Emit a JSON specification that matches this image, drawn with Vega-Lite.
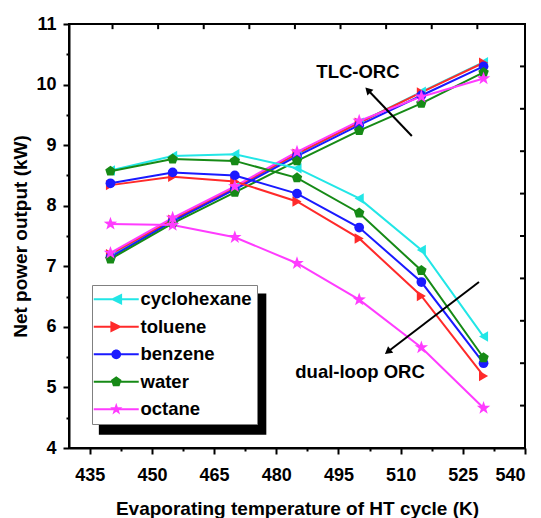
{
  "$schema": "https://vega.github.io/schema/vega-lite/v6.json",
  "width": 456,
  "height": 424,
  "autosize": "none",
  "padding": {"left": 69, "top": 24, "right": 16, "bottom": 70},
  "background": "white",
  "config": {
    "font": "Liberation Sans",
    "view": {"stroke": "black", "strokeWidth": 2},
    "axis": {"labelFont": "Liberation Sans", "titleFont": "Liberation Sans", "labelFontWeight": "bold", "titleFontWeight": "bold", "labelColor": "black", "titleColor": "black", "domainColor": "black", "tickColor": "black", "domainWidth": 2, "tickWidth": 2, "grid": false}
  },
  "datasets": {
    "series": [
      {"T": 440, "P": 7.18, "fluid": "cyclohexane", "cycle": "TLC-ORC"},
      {"T": 455, "P": 7.75, "fluid": "cyclohexane", "cycle": "TLC-ORC"},
      {"T": 470, "P": 8.30, "fluid": "cyclohexane", "cycle": "TLC-ORC"},
      {"T": 485, "P": 8.85, "fluid": "cyclohexane", "cycle": "TLC-ORC"},
      {"T": 500, "P": 9.37, "fluid": "cyclohexane", "cycle": "TLC-ORC"},
      {"T": 515, "P": 9.88, "fluid": "cyclohexane", "cycle": "TLC-ORC"},
      {"T": 530, "P": 10.37, "fluid": "cyclohexane", "cycle": "TLC-ORC"},
      {"T": 440, "P": 7.20, "fluid": "toluene", "cycle": "TLC-ORC"},
      {"T": 455, "P": 7.77, "fluid": "toluene", "cycle": "TLC-ORC"},
      {"T": 470, "P": 8.30, "fluid": "toluene", "cycle": "TLC-ORC"},
      {"T": 485, "P": 8.86, "fluid": "toluene", "cycle": "TLC-ORC"},
      {"T": 500, "P": 9.37, "fluid": "toluene", "cycle": "TLC-ORC"},
      {"T": 515, "P": 9.87, "fluid": "toluene", "cycle": "TLC-ORC"},
      {"T": 530, "P": 10.36, "fluid": "toluene", "cycle": "TLC-ORC"},
      {"T": 440, "P": 7.15, "fluid": "benzene", "cycle": "TLC-ORC"},
      {"T": 455, "P": 7.74, "fluid": "benzene", "cycle": "TLC-ORC"},
      {"T": 470, "P": 8.27, "fluid": "benzene", "cycle": "TLC-ORC"},
      {"T": 485, "P": 8.82, "fluid": "benzene", "cycle": "TLC-ORC"},
      {"T": 500, "P": 9.33, "fluid": "benzene", "cycle": "TLC-ORC"},
      {"T": 515, "P": 9.82, "fluid": "benzene", "cycle": "TLC-ORC"},
      {"T": 530, "P": 10.30, "fluid": "benzene", "cycle": "TLC-ORC"},
      {"T": 440, "P": 7.12, "fluid": "water", "cycle": "TLC-ORC"},
      {"T": 455, "P": 7.71, "fluid": "water", "cycle": "TLC-ORC"},
      {"T": 470, "P": 8.22, "fluid": "water", "cycle": "TLC-ORC"},
      {"T": 485, "P": 8.74, "fluid": "water", "cycle": "TLC-ORC"},
      {"T": 500, "P": 9.24, "fluid": "water", "cycle": "TLC-ORC"},
      {"T": 515, "P": 9.69, "fluid": "water", "cycle": "TLC-ORC"},
      {"T": 530, "P": 10.20, "fluid": "water", "cycle": "TLC-ORC"},
      {"T": 440, "P": 7.22, "fluid": "octane", "cycle": "TLC-ORC"},
      {"T": 455, "P": 7.80, "fluid": "octane", "cycle": "TLC-ORC"},
      {"T": 470, "P": 8.32, "fluid": "octane", "cycle": "TLC-ORC"},
      {"T": 485, "P": 8.89, "fluid": "octane", "cycle": "TLC-ORC"},
      {"T": 500, "P": 9.40, "fluid": "octane", "cycle": "TLC-ORC"},
      {"T": 515, "P": 9.80, "fluid": "octane", "cycle": "TLC-ORC"},
      {"T": 530, "P": 10.10, "fluid": "octane", "cycle": "TLC-ORC"},
      {"T": 440, "P": 8.58, "fluid": "cyclohexane", "cycle": "dual-loop ORC"},
      {"T": 455, "P": 8.82, "fluid": "cyclohexane", "cycle": "dual-loop ORC"},
      {"T": 470, "P": 8.85, "fluid": "cyclohexane", "cycle": "dual-loop ORC"},
      {"T": 485, "P": 8.62, "fluid": "cyclohexane", "cycle": "dual-loop ORC"},
      {"T": 500, "P": 8.12, "fluid": "cyclohexane", "cycle": "dual-loop ORC"},
      {"T": 515, "P": 7.27, "fluid": "cyclohexane", "cycle": "dual-loop ORC"},
      {"T": 530, "P": 5.84, "fluid": "cyclohexane", "cycle": "dual-loop ORC"},
      {"T": 440, "P": 8.34, "fluid": "toluene", "cycle": "dual-loop ORC"},
      {"T": 455, "P": 8.48, "fluid": "toluene", "cycle": "dual-loop ORC"},
      {"T": 470, "P": 8.40, "fluid": "toluene", "cycle": "dual-loop ORC"},
      {"T": 485, "P": 8.07, "fluid": "toluene", "cycle": "dual-loop ORC"},
      {"T": 500, "P": 7.46, "fluid": "toluene", "cycle": "dual-loop ORC"},
      {"T": 515, "P": 6.51, "fluid": "toluene", "cycle": "dual-loop ORC"},
      {"T": 530, "P": 5.19, "fluid": "toluene", "cycle": "dual-loop ORC"},
      {"T": 440, "P": 8.37, "fluid": "benzene", "cycle": "dual-loop ORC"},
      {"T": 455, "P": 8.55, "fluid": "benzene", "cycle": "dual-loop ORC"},
      {"T": 470, "P": 8.50, "fluid": "benzene", "cycle": "dual-loop ORC"},
      {"T": 485, "P": 8.20, "fluid": "benzene", "cycle": "dual-loop ORC"},
      {"T": 500, "P": 7.64, "fluid": "benzene", "cycle": "dual-loop ORC"},
      {"T": 515, "P": 6.74, "fluid": "benzene", "cycle": "dual-loop ORC"},
      {"T": 530, "P": 5.40, "fluid": "benzene", "cycle": "dual-loop ORC"},
      {"T": 440, "P": 8.57, "fluid": "water", "cycle": "dual-loop ORC"},
      {"T": 455, "P": 8.77, "fluid": "water", "cycle": "dual-loop ORC"},
      {"T": 470, "P": 8.74, "fluid": "water", "cycle": "dual-loop ORC"},
      {"T": 485, "P": 8.46, "fluid": "water", "cycle": "dual-loop ORC"},
      {"T": 500, "P": 7.88, "fluid": "water", "cycle": "dual-loop ORC"},
      {"T": 515, "P": 6.93, "fluid": "water", "cycle": "dual-loop ORC"},
      {"T": 530, "P": 5.49, "fluid": "water", "cycle": "dual-loop ORC"},
      {"T": 440, "P": 7.70, "fluid": "octane", "cycle": "dual-loop ORC"},
      {"T": 455, "P": 7.68, "fluid": "octane", "cycle": "dual-loop ORC"},
      {"T": 470, "P": 7.48, "fluid": "octane", "cycle": "dual-loop ORC"},
      {"T": 485, "P": 7.05, "fluid": "octane", "cycle": "dual-loop ORC"},
      {"T": 500, "P": 6.45, "fluid": "octane", "cycle": "dual-loop ORC"},
      {"T": 515, "P": 5.66, "fluid": "octane", "cycle": "dual-loop ORC"},
      {"T": 530, "P": 4.66, "fluid": "octane", "cycle": "dual-loop ORC"}
    ],
    "labels": [
      {"T": 499.7, "P": 10.21, "text": "TLC-ORC"},
      {"T": 500.2, "P": 5.26, "text": "dual-loop ORC"}
    ],
    "arrows": [
      {"name": "TLC-ORC", "T1": 512.7, "P1": 9.15, "T2": 502.1, "P2": 9.91},
      {"name": "dual-loop ORC", "T1": 528.9, "P1": 6.74, "T2": 506.9, "P2": 5.59}
    ],
    "shadow": [
      {"T1": 437.2, "T2": 477.6, "P1": 4.22, "P2": 6.55}
    ],
    "topTicks": [
      {"T": 440.5}, {"T": 451.5}, {"T": 462.5}, {"T": 473.5}, {"T": 484.5}, {"T": 495.5}, {"T": 506.5}, {"T": 517.5}, {"T": 528.5}
    ],
    "rightTicks": [
      {"P": 4.7}, {"P": 5.4}, {"P": 6.1}, {"P": 6.8}, {"P": 7.5}, {"P": 8.2}, {"P": 8.9}, {"P": 9.6}, {"P": 10.3}
    ]
  },
  "resolve": {"scale": {"x": "independent", "y": "independent"}},
  "layer": [
    {
      "data": {"name": "series"},
      "mark": {"type": "line", "strokeWidth": 2},
      "encoding": {
        "x": {"field": "T", "type": "quantitative", "scale": {"domain": [430, 540], "nice": false, "zero": false},
          "axis": {"orient": "bottom", "title": "Evaporating temperature of HT cycle (K)", "titleFontSize": 19, "titlePadding": 15, "labelFontSize": 18, "labelPadding": 12,
            "values": [435, 442.5, 450, 457.5, 465, 472.5, 480, 487.5, 495, 502.5, 510, 517.5, 525, 532.5, 540],
            "labelExpr": "datum.value % 15 == 0 ? format(datum.value, 'd') : ''",
            "tickSize": {"condition": {"test": "datum.value % 15 == 0", "value": 6}, "value": 3}}},
        "y": {"field": "P", "type": "quantitative", "scale": {"domain": [4, 11], "nice": false, "zero": false},
          "axis": {"orient": "left", "title": "Net power output (kW)", "titleFontSize": 19, "titlePadding": 5, "labelFontSize": 18, "labelPadding": 7,
            "values": [4, 4.5, 5, 5.5, 6, 6.5, 7, 7.5, 8, 8.5, 9, 9.5, 10, 10.5, 11],
            "labelExpr": "datum.value % 1 == 0 ? format(datum.value, 'd') : ''",
            "tickSize": {"condition": {"test": "datum.value % 1 == 0", "value": 6}, "value": 3}}},
        "stroke": {"field": "fluid", "type": "nominal", "legend": null,
          "scale": {"domain": ["benzene", "cyclohexane", "octane", "toluene", "water"], "range": ["#1a1aff", "#22e6e6", "#ff3cff", "#ff2a2a", "#168a16"]}},
        "detail": {"field": "cycle"}
      }
    },
    {
      "data": {"name": "shadow"},
      "mark": {"type": "rect", "color": "black", "opacity": 1},
      "encoding": {
        "x": {"field": "T1", "type": "quantitative", "scale": {"domain": [430, 540], "nice": false, "zero": false}, "axis": null},
        "x2": {"field": "T2"},
        "y": {"field": "P1", "type": "quantitative", "scale": {"domain": [4, 11], "nice": false, "zero": false}, "axis": null},
        "y2": {"field": "P2"}
      }
    },
    {
      "data": {"name": "topTicks"},
      "mark": {"type": "rule", "color": "black", "strokeWidth": 2},
      "encoding": {
        "x": {"field": "T", "type": "quantitative", "scale": {"domain": [430, 540], "nice": false, "zero": false}, "axis": null},
        "y": {"datum": 11, "type": "quantitative", "scale": {"domain": [4, 11], "nice": false, "zero": false}, "axis": null},
        "y2": {"datum": 10.915}
      }
    },
    {
      "data": {"name": "rightTicks"},
      "mark": {"type": "rule", "color": "black", "strokeWidth": 2},
      "encoding": {
        "y": {"field": "P", "type": "quantitative", "scale": {"domain": [4, 11], "nice": false, "zero": false}, "axis": null},
        "x": {"datum": 540, "type": "quantitative", "scale": {"domain": [430, 540], "nice": false, "zero": false}, "axis": null},
        "x2": {"datum": 538.8}
      }
    },
    {
      "data": {"name": "series"},
      "transform": [{"filter": "datum.fluid == 'cyclohexane'"}],
      "mark": {"type": "point", "filled": true, "opacity": 1, "shape": "triangle-left", "size": 110},
      "encoding": {
        "x": {"field": "T", "type": "quantitative", "scale": {"domain": [430, 540], "nice": false, "zero": false}, "axis": null},
        "y": {"field": "P", "type": "quantitative", "scale": {"domain": [4, 11], "nice": false, "zero": false}, "axis": null},
        "fill": {"field": "fluid", "type": "nominal", "legend": null, "scale": {"domain": ["benzene", "cyclohexane", "octane", "toluene", "water"], "range": ["#1a1aff", "#22e6e6", "#ff3cff", "#ff2a2a", "#168a16"]}}
      }
    },
    {
      "data": {"name": "series"},
      "transform": [{"filter": "datum.fluid == 'toluene'"}],
      "mark": {"type": "point", "filled": true, "opacity": 1, "shape": "triangle-right", "size": 110},
      "encoding": {
        "x": {"field": "T", "type": "quantitative", "scale": {"domain": [430, 540], "nice": false, "zero": false}, "axis": null},
        "y": {"field": "P", "type": "quantitative", "scale": {"domain": [4, 11], "nice": false, "zero": false}, "axis": null},
        "fill": {"field": "fluid", "type": "nominal", "legend": null}
      }
    },
    {
      "data": {"name": "series"},
      "transform": [{"filter": "datum.fluid == 'benzene'"}],
      "mark": {"type": "point", "filled": true, "opacity": 1, "shape": "circle", "size": 95},
      "encoding": {
        "x": {"field": "T", "type": "quantitative", "scale": {"domain": [430, 540], "nice": false, "zero": false}, "axis": null},
        "y": {"field": "P", "type": "quantitative", "scale": {"domain": [4, 11], "nice": false, "zero": false}, "axis": null},
        "fill": {"field": "fluid", "type": "nominal", "legend": null}
      }
    },
    {
      "data": {"name": "series"},
      "transform": [{"filter": "datum.fluid == 'water'"}],
      "mark": {"type": "point", "filled": true, "opacity": 1, "shape": "M0,-1L0.951,-0.309L0.588,0.809L-0.588,0.809L-0.951,-0.309Z", "size": 120},
      "encoding": {
        "x": {"field": "T", "type": "quantitative", "scale": {"domain": [430, 540], "nice": false, "zero": false}, "axis": null},
        "y": {"field": "P", "type": "quantitative", "scale": {"domain": [4, 11], "nice": false, "zero": false}, "axis": null},
        "fill": {"field": "fluid", "type": "nominal", "legend": null}
      }
    },
    {
      "data": {"name": "series"},
      "transform": [{"filter": "datum.fluid == 'octane'"}],
      "mark": {"type": "point", "filled": true, "opacity": 1, "shape": "M0,-1L0.235,-0.324L0.951,-0.309L0.38,0.124L0.588,0.809L0,0.4L-0.588,0.809L-0.38,0.124L-0.951,-0.309L-0.235,-0.324Z", "size": 200},
      "encoding": {
        "x": {"field": "T", "type": "quantitative", "scale": {"domain": [430, 540], "nice": false, "zero": false}, "axis": null},
        "y": {"field": "P", "type": "quantitative", "scale": {"domain": [4, 11], "nice": false, "zero": false}, "axis": null},
        "fill": {"field": "fluid", "type": "nominal", "legend": null}
      }
    },
    {
      "data": {"name": "series"},
      "mark": {"type": "point", "filled": true, "opacity": 0},
      "encoding": {
        "x": {"field": "T", "type": "quantitative", "scale": {"domain": [430, 540], "nice": false, "zero": false}, "axis": null},
        "y": {"field": "P", "type": "quantitative", "scale": {"domain": [4, 11], "nice": false, "zero": false}, "axis": null},
        "color": {"field": "fluid", "type": "nominal", "title": null,
          "scale": {"domain": ["cyclohexane", "toluene", "benzene", "water", "octane"], "range": ["#22e6e6", "#ff2a2a", "#1a1aff", "#168a16", "#ff3cff"]},
          "legend": {"orient": "none", "legendX": 23, "legendY": 261, "title": null, "fillColor": "white", "strokeColor": "#808080", "padding": 5, "labelFont": "Liberation Sans", "labelFontWeight": "bold", "labelFontSize": 18.5, "labelColor": "black", "symbolSize": 169, "symbolStrokeWidth": 0, "symbolOpacity": 1, "symbolOffset": 10, "labelOffset": 15, "rowPadding": 8.5, "labelLimit": 300}},
        "shape": {"field": "fluid", "type": "nominal", "title": null,
          "scale": {"domain": ["cyclohexane", "toluene", "benzene", "water", "octane"],
            "range": [
              "M-3.46,-0.15H3.46V0.15H-3.46ZM-0.9,0L0.9,-0.9L0.9,0.9Z",
              "M-3.46,-0.15H3.46V0.15H-3.46ZM0.9,0L-0.9,0.9L-0.9,-0.9Z",
              "M-3.46,-0.15H3.46V0.15H-3.46ZM0.75,0A0.75,0.75 0 1,1 -0.75,0A0.75,0.75 0 1,1 0.75,0Z",
              "M-3.46,-0.15H3.46V0.15H-3.46ZM0,-0.85L0.81,-0.26L0.5,0.69L-0.5,0.69L-0.81,-0.26Z",
              "M-3.46,-0.15H3.46V0.15H-3.46ZM0,-1L0.235,-0.324L0.951,-0.309L0.38,0.124L0.588,0.809L0,0.4L-0.588,0.809L-0.38,0.124L-0.951,-0.309L-0.235,-0.324Z"
            ]},
          "legend": {"orient": "none", "legendX": 23, "legendY": 261, "title": null, "fillColor": "white", "strokeColor": "#808080", "padding": 5, "labelFont": "Liberation Sans", "labelFontWeight": "bold", "labelFontSize": 18.5, "labelColor": "black", "symbolSize": 169, "symbolStrokeWidth": 0, "symbolOpacity": 1, "symbolOffset": 10, "labelOffset": 15, "rowPadding": 8.5, "labelLimit": 300}}
      }
    },
    {
      "data": {"name": "arrows"},
      "mark": {"type": "rule", "strokeWidth": 2, "color": "black"},
      "encoding": {
        "x": {"field": "T1", "type": "quantitative", "scale": {"domain": [430, 540], "nice": false, "zero": false}, "axis": null},
        "y": {"field": "P1", "type": "quantitative", "scale": {"domain": [4, 11], "nice": false, "zero": false}, "axis": null},
        "x2": {"field": "T2"},
        "y2": {"field": "P2"}
      }
    },
    {
      "data": {"name": "arrows"},
      "transform": [{"filter": "datum.name == 'TLC-ORC'"}],
      "mark": {"type": "point", "shape": "triangle-up", "filled": true, "color": "black", "opacity": 1, "size": 70, "angle": 316},
      "encoding": {
        "x": {"field": "T2", "type": "quantitative", "scale": {"domain": [430, 540], "nice": false, "zero": false}, "axis": null},
        "y": {"field": "P2", "type": "quantitative", "scale": {"domain": [4, 11], "nice": false, "zero": false}, "axis": null}
      }
    },
    {
      "data": {"name": "arrows"},
      "transform": [{"filter": "datum.name == 'dual-loop ORC'"}],
      "mark": {"type": "point", "shape": "triangle-up", "filled": true, "color": "black", "opacity": 1, "size": 70, "angle": 232},
      "encoding": {
        "x": {"field": "T2", "type": "quantitative", "scale": {"domain": [430, 540], "nice": false, "zero": false}, "axis": null},
        "y": {"field": "P2", "type": "quantitative", "scale": {"domain": [4, 11], "nice": false, "zero": false}, "axis": null}
      }
    },
    {
      "data": {"name": "labels"},
      "mark": {"type": "text", "font": "Liberation Sans", "fontWeight": "bold", "fontSize": 18.5, "color": "black", "align": "center", "baseline": "middle"},
      "encoding": {
        "x": {"field": "T", "type": "quantitative", "scale": {"domain": [430, 540], "nice": false, "zero": false}, "axis": null},
        "y": {"field": "P", "type": "quantitative", "scale": {"domain": [4, 11], "nice": false, "zero": false}, "axis": null},
        "text": {"field": "text"}
      }
    }
  ]
}
